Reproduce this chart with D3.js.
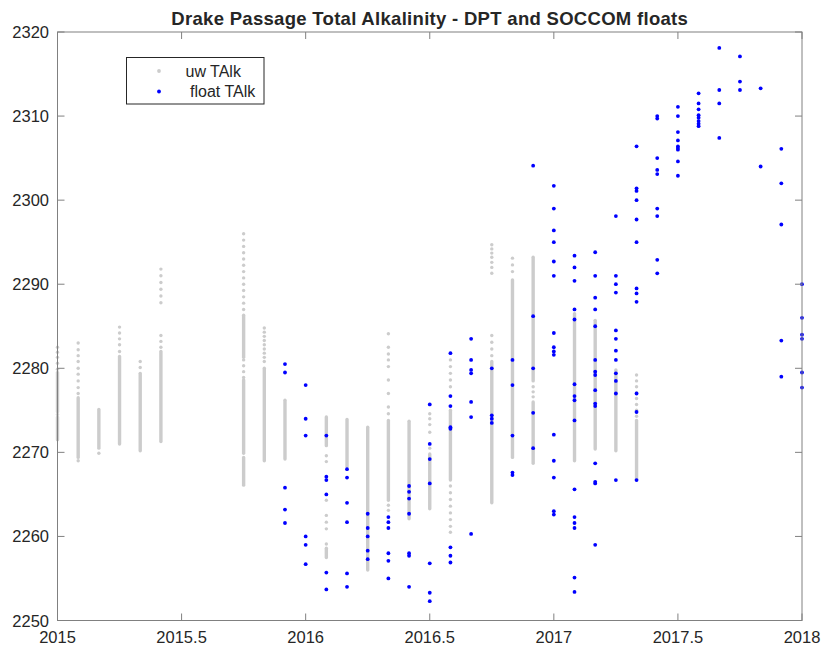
<!DOCTYPE html>
<html>
<head>
<meta charset="utf-8">
<script src="https://cdn.jsdelivr.net/npm/d3@7"></script>
<style>
  body { margin: 0; background: #fff; }
  svg { display: block; }
  text { font-family: "Liberation Sans", Arial, Helvetica, sans-serif; fill: #262626; }
</style>
</head>
<body>
<svg id="chart" width="822" height="646"></svg>
<script>
// ---------- DATA ----------
const titleText = "Drake Passage Total Alkalinity - DPT and SOCCOM floats";
const xTicks = [2015, 2015.5, 2016, 2016.5, 2017, 2017.5, 2018];
const yTicks = [2250, 2260, 2270, 2280, 2290, 2300, 2310, 2320];
const legendLabels = ["uw TAlk", "float TAlk"];

// underway (uw) TAlk: month index since Jan 2015
const uwMonths = [0, 1, 2, 3, 4, 5, 9, 10, 11, 13, 14, 15, 16, 17, 18, 19, 21, 22, 23, 25, 26, 27, 28];
// dense runs of overlapping samples [low, high]
const uwRuns = [
  [[2274.8, 2279.5], [2271.5, 2274.2]],
  [[2269.4, 2276.5]],
  [[2270.5, 2275.1]],
  [[2271.0, 2281.4]],
  [[2270.2, 2279.4]],
  [[2271.3, 2282.0]],
  [[2281.3, 2286.3], [2269.9, 2278.6], [2266.1, 2269.4]],
  [[2269.0, 2280.0]],
  [[2269.2, 2276.2]],
  [[2270.8, 2274.2], [2257.5, 2258.6]],
  [[2268.3, 2273.9]],
  [[2256.0, 2273.0]],
  [[2264.3, 2273.8]],
  [[2262.1, 2273.7]],
  [[2263.3, 2269.8]],
  [[2266.7, 2275.0]],
  [[2264.0, 2280.8]],
  [[2269.4, 2290.5]],
  [[2278.5, 2293.2], [2268.7, 2276.0]],
  [[2269.0, 2286.5]],
  [[2270.4, 2285.7]],
  [[2270.2, 2279.8]],
  [[2266.8, 2273.8]]
];
// isolated samples
const uwPoints = [
  [2282.5, 2281.9, 2281.3, 2280.6, 2279.9, 2274.5],
  [2283.0, 2282.2, 2281.5, 2280.8, 2280.0, 2279.3, 2278.5, 2277.7, 2277.0, 2269.0],
  [2269.9],
  [2284.9, 2284.2, 2283.5, 2282.8, 2282.0],
  [2280.8, 2280.1],
  [2291.8, 2291.0, 2290.2, 2289.4, 2288.6, 2287.8, 2283.9, 2283.2, 2282.5],
  [2296.0, 2295.25, 2294.5, 2293.75, 2293.0, 2292.25, 2291.5, 2290.75, 2290.0, 2289.25, 2288.5, 2287.75, 2287.0, 2281.0, 2280.3, 2279.6, 2278.9],
  [2284.8, 2284.3, 2283.8, 2283.3, 2282.8, 2282.3, 2281.8, 2281.3, 2280.8],
  [],
  [2269.6, 2268.9, 2264.3, 2262.5, 2261.7, 2260.9, 2259.1],
  [],
  [],
  [2284.1, 2282.5, 2281.7, 2281.0, 2280.2, 2278.6, 2277.0, 2275.4, 2274.6, 2263.7, 2263.1],
  [],
  [2274.6, 2274.0, 2273.3, 2272.4, 2270.5],
  [2281.0, 2280.2, 2279.4, 2278.6, 2277.8, 2266.0, 2265.2, 2264.4, 2263.6, 2262.8, 2262.0, 2261.2, 2260.5],
  [2294.7, 2294.2, 2293.7, 2293.2, 2292.6, 2292.0, 2291.3, 2283.9, 2283.1, 2282.3, 2281.5],
  [2293.1, 2292.3, 2291.5],
  [2277.8, 2277.2, 2276.6],
  [],
  [],
  [],
  [2279.2, 2278.5, 2277.8, 2277.1, 2276.4, 2275.7, 2275.0, 2274.3]
];

// SOCCOM float TAlk: month index since Jan 2015
const floatMonths = [11, 12, 13, 14, 15, 16, 17, 18, 19, 20, 21, 22, 23, 24, 25, 26, 27, 28, 29, 30, 31, 32, 33, 34, 35, 36];
const floatValues = [
  [2280.5, 2279.5, 2265.8, 2263.2, 2261.6],
  [2278.0, 2274.0, 2272.0, 2260.0, 2259.0, 2256.7],
  [2272.0, 2267.1, 2266.7, 2265.0, 2255.7, 2253.7],
  [2268.0, 2267.0, 2264.0, 2261.7, 2255.6, 2254.0],
  [2262.7, 2261.0, 2260.0, 2258.3, 2257.3],
  [2262.3, 2261.7, 2261.0, 2258.0, 2257.1, 2255.0],
  [2266.0, 2265.3, 2264.5, 2262.7, 2258.0, 2257.7, 2254.0],
  [2275.7, 2271.0, 2269.2, 2266.3, 2256.8, 2253.3, 2252.3],
  [2281.8, 2276.7, 2275.5, 2273.0, 2272.8, 2258.7, 2257.7, 2256.9],
  [2283.5, 2281.0, 2279.8, 2279.4, 2276.0, 2274.2, 2260.3],
  [2280.0, 2274.4, 2274.0, 2273.5],
  [2281.0, 2278.0, 2272.0, 2267.6, 2267.3],
  [2304.1, 2286.2, 2280.0, 2274.7, 2270.5],
  [2301.7, 2299.0, 2296.4, 2295.0, 2292.7, 2291.0, 2284.2, 2282.5, 2282.0, 2281.6, 2272.1, 2269.0, 2267.0, 2263.0, 2262.6],
  [2293.4, 2292.0, 2290.4, 2287.0, 2285.8, 2278.1, 2276.7, 2276.2, 2273.8, 2265.6, 2262.3, 2261.6, 2261.0, 2255.1, 2253.4],
  [2293.8, 2291.0, 2288.4, 2287.0, 2285.0, 2281.0, 2279.6, 2279.2, 2277.4, 2275.8, 2275.5, 2268.7, 2266.5, 2266.3, 2259.0],
  [2298.1, 2291.0, 2290.0, 2289.0, 2284.5, 2283.5, 2282.1, 2281.0, 2279.4, 2278.5, 2277.0, 2266.7],
  [2306.4, 2301.4, 2301.1, 2300.0, 2297.7, 2295.0, 2289.5, 2288.9, 2287.9, 2277.0, 2274.8, 2266.7],
  [2310.0, 2309.7, 2305.0, 2303.6, 2303.1, 2299.0, 2298.1, 2292.9, 2291.3],
  [2311.1, 2310.0, 2308.1, 2307.1, 2306.4, 2306.2, 2306.0, 2304.6, 2302.9],
  [2312.7, 2311.5, 2310.8, 2310.1, 2309.8, 2309.4, 2309.1, 2308.8],
  [2318.1, 2313.1, 2311.5, 2307.4],
  [2317.1, 2314.1, 2313.1],
  [2313.3, 2304.0],
  [2306.1, 2302.0, 2297.1, 2283.3, 2279.0],
  [2290.0, 2286.0, 2284.0, 2283.5, 2279.5, 2277.7]
];

// ---------- CHART ----------
const L = 57.5, R = 802, T = 32, B = 620.5;
const uwColor = "#cccccc", floatColor = "#0000ff";
const toYear = m => 2015 + m / 12;

const svg = d3.select("#chart");
const x = d3.scaleLinear().domain([2015, 2018]).range([L, R]);
const y = d3.scaleLinear().domain([2250, 2320]).range([B, T]);

const plot = svg.append("g");

// uw columns: dense runs + isolated samples
uwMonths.forEach((m, i) => {
  plot.selectAll(null).data(uwRuns[i]).enter().append("line")
    .attr("x1", x(toYear(m))).attr("x2", x(toYear(m)))
    .attr("y1", d => y(d[1])).attr("y2", d => y(d[0]))
    .attr("stroke", uwColor).attr("stroke-width", 3.4).attr("stroke-linecap", "round");
  plot.selectAll(null).data(uwPoints[i]).enter().append("circle")
    .attr("cx", x(toYear(m))).attr("cy", d => y(d)).attr("r", 1.7)
    .attr("fill", uwColor);
});

// float points
floatMonths.forEach((m, i) => {
  plot.selectAll(null).data(floatValues[i]).enter().append("circle")
    .attr("cx", x(toYear(m))).attr("cy", d => y(d)).attr("r", 1.9)
    .attr("fill", floatColor);
});

// axes (MATLAB style, inward ticks, box)
const axisColor = "#808080";
const tickLen = 7;
const ax = svg.append("g");
ax.append("rect").attr("x", L).attr("y", T).attr("width", R - L).attr("height", B - T)
  .attr("fill", "none").attr("stroke", axisColor).attr("stroke-width", 1);

xTicks.forEach(t => {
  ax.append("line").attr("x1", x(t)).attr("x2", x(t)).attr("y1", B).attr("y2", B - tickLen).attr("stroke", axisColor);
  ax.append("line").attr("x1", x(t)).attr("x2", x(t)).attr("y1", T).attr("y2", T + tickLen).attr("stroke", axisColor);
  ax.append("text").attr("x", x(t)).attr("y", 643).attr("text-anchor", "middle")
    .attr("font-size", "16.5px").text(d3.format("")(t));
});
yTicks.forEach(t => {
  ax.append("line").attr("x1", L).attr("x2", L + tickLen).attr("y1", y(t)).attr("y2", y(t)).attr("stroke", axisColor);
  ax.append("line").attr("x1", R).attr("x2", R - tickLen).attr("y1", y(t)).attr("y2", y(t)).attr("stroke", axisColor);
  ax.append("text").attr("x", 49).attr("y", y(t) + 6).attr("text-anchor", "end")
    .attr("font-size", "16.5px").text(t);
});

// title
svg.append("text").attr("x", (L + R) / 2).attr("y", 25).attr("text-anchor", "middle")
  .attr("font-size", "18.5px").attr("font-weight", "bold").attr("letter-spacing", "0.3px")
  .attr("fill", "#000").text(titleText);

// legend
const lg = svg.append("g");
lg.append("rect").attr("x", 126.5).attr("y", 57.5).attr("width", 137.5).attr("height", 46.5)
  .attr("fill", "#fff").attr("stroke", "#262626").attr("stroke-width", 1);
const legColors = [uwColor, floatColor];
const legY = [71, 91.5];
const legTx = [185.5, 190];
legendLabels.forEach((lab, i) => {
  lg.append("circle").attr("cx", 159).attr("cy", legY[i]).attr("r", 1.9).attr("fill", legColors[i]);
  lg.append("text").attr("x", legTx[i]).attr("y", legY[i] + 5.5).attr("font-size", "16px").attr("fill", "#000").text(lab);
});
</script>
</body>
</html>
